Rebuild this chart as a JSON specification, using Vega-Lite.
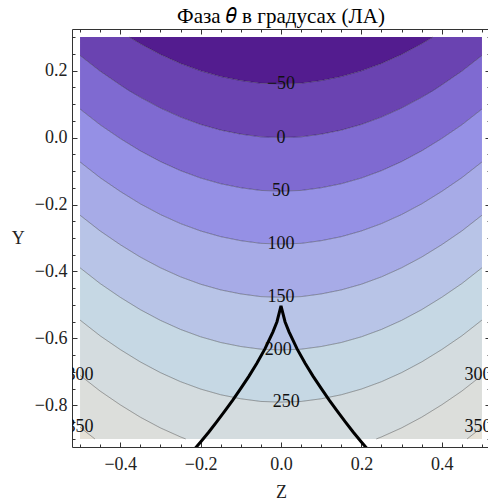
{
  "$schema": "https://vega.github.io/schema/vega-lite/v6.json",
  "width": 418,
  "height": 418,
  "autosize": {"type": "none"},
  "padding": {"left": 72, "top": 29, "right": 0, "bottom": 53},
  "background": "white",
  "title": {"text": "Фаза 𝜃 в градусах (ЛА)", "font": "Liberation Serif", "fontSize": 21, "fontWeight": "normal", "color": "#000", "offset": 2},
  "config": {
    "view": {"stroke": "#333", "strokeWidth": 1},
    "axis": {"labelFont": "Liberation Serif", "labelFontSize": 18, "labelColor": "#222", "titleFont": "Liberation Serif", "titleFontSize": 18, "titleFontWeight": "normal", "titleColor": "#222", "tickColor": "#333", "domain": false, "grid": false, "zindex": 1}
  },
  "datasets": {
    "bands": [
      {"b":"b0","z":-0.378,"t":0.3,"u":0.3},{"b":"b0","z":-0.35,"t":0.3,"u":0.28},{"b":"b0","z":-0.3,"t":0.3,"u":0.248},{"b":"b0","z":-0.25,"t":0.3,"u":0.221},{"b":"b0","z":-0.2,"t":0.3,"u":0.199},{"b":"b0","z":-0.15,"t":0.3,"u":0.182},{"b":"b0","z":-0.1,"t":0.3,"u":0.17},{"b":"b0","z":-0.05,"t":0.3,"u":0.162},{"b":"b0","z":0,"t":0.3,"u":0.16},{"b":"b0","z":0.05,"t":0.3,"u":0.162},{"b":"b0","z":0.1,"t":0.3,"u":0.17},{"b":"b0","z":0.15,"t":0.3,"u":0.182},{"b":"b0","z":0.2,"t":0.3,"u":0.199},{"b":"b0","z":0.25,"t":0.3,"u":0.221},{"b":"b0","z":0.3,"t":0.3,"u":0.248},{"b":"b0","z":0.35,"t":0.3,"u":0.28},{"b":"b0","z":0.378,"t":0.3,"u":0.3},
      {"b":"b1","z":-0.5,"t":0.3,"u":0.245},{"b":"b1","z":-0.45,"t":0.3,"u":0.198},{"b":"b1","z":-0.4,"t":0.3,"u":0.157},{"b":"b1","z":-0.378,"t":0.3,"u":0.14},{"b":"b1","z":-0.35,"t":0.28,"u":0.12},{"b":"b1","z":-0.3,"t":0.248,"u":0.088},{"b":"b1","z":-0.25,"t":0.221,"u":0.061},{"b":"b1","z":-0.2,"t":0.199,"u":0.039},{"b":"b1","z":-0.15,"t":0.182,"u":0.022},{"b":"b1","z":-0.1,"t":0.17,"u":0.01},{"b":"b1","z":-0.05,"t":0.162,"u":0.002},{"b":"b1","z":0,"t":0.16,"u":0},{"b":"b1","z":0.05,"t":0.162,"u":0.002},{"b":"b1","z":0.1,"t":0.17,"u":0.01},{"b":"b1","z":0.15,"t":0.182,"u":0.022},{"b":"b1","z":0.2,"t":0.199,"u":0.039},{"b":"b1","z":0.25,"t":0.221,"u":0.061},{"b":"b1","z":0.3,"t":0.248,"u":0.088},{"b":"b1","z":0.35,"t":0.28,"u":0.12},{"b":"b1","z":0.378,"t":0.3,"u":0.14},{"b":"b1","z":0.4,"t":0.3,"u":0.157},{"b":"b1","z":0.45,"t":0.3,"u":0.198},{"b":"b1","z":0.5,"t":0.3,"u":0.245},
      {"b":"b2","z":-0.5,"t":0.245,"u":0.085},{"b":"b2","z":-0.45,"t":0.198,"u":0.038},{"b":"b2","z":-0.4,"t":0.157,"u":-0.003},{"b":"b2","z":-0.35,"t":0.12,"u":-0.04},{"b":"b2","z":-0.3,"t":0.088,"u":-0.072},{"b":"b2","z":-0.25,"t":0.061,"u":-0.099},{"b":"b2","z":-0.2,"t":0.039,"u":-0.121},{"b":"b2","z":-0.15,"t":0.022,"u":-0.138},{"b":"b2","z":-0.1,"t":0.01,"u":-0.15},{"b":"b2","z":-0.05,"t":0.002,"u":-0.158},{"b":"b2","z":0,"t":0,"u":-0.16},{"b":"b2","z":0.05,"t":0.002,"u":-0.158},{"b":"b2","z":0.1,"t":0.01,"u":-0.15},{"b":"b2","z":0.15,"t":0.022,"u":-0.138},{"b":"b2","z":0.2,"t":0.039,"u":-0.121},{"b":"b2","z":0.25,"t":0.061,"u":-0.099},{"b":"b2","z":0.3,"t":0.088,"u":-0.072},{"b":"b2","z":0.35,"t":0.12,"u":-0.04},{"b":"b2","z":0.4,"t":0.157,"u":-0.003},{"b":"b2","z":0.45,"t":0.198,"u":0.038},{"b":"b2","z":0.5,"t":0.245,"u":0.085},
      {"b":"b3","z":-0.5,"t":0.085,"u":-0.073},{"b":"b3","z":-0.45,"t":0.038,"u":-0.12},{"b":"b3","z":-0.4,"t":-0.003,"u":-0.161},{"b":"b3","z":-0.35,"t":-0.04,"u":-0.198},{"b":"b3","z":-0.3,"t":-0.072,"u":-0.23},{"b":"b3","z":-0.25,"t":-0.099,"u":-0.257},{"b":"b3","z":-0.2,"t":-0.121,"u":-0.279},{"b":"b3","z":-0.15,"t":-0.138,"u":-0.296},{"b":"b3","z":-0.1,"t":-0.15,"u":-0.308},{"b":"b3","z":-0.05,"t":-0.158,"u":-0.316},{"b":"b3","z":0,"t":-0.16,"u":-0.318},{"b":"b3","z":0.05,"t":-0.158,"u":-0.316},{"b":"b3","z":0.1,"t":-0.15,"u":-0.308},{"b":"b3","z":0.15,"t":-0.138,"u":-0.296},{"b":"b3","z":0.2,"t":-0.121,"u":-0.279},{"b":"b3","z":0.25,"t":-0.099,"u":-0.257},{"b":"b3","z":0.3,"t":-0.072,"u":-0.23},{"b":"b3","z":0.35,"t":-0.04,"u":-0.198},{"b":"b3","z":0.4,"t":-0.003,"u":-0.161},{"b":"b3","z":0.45,"t":0.038,"u":-0.12},{"b":"b3","z":0.5,"t":0.085,"u":-0.073},
      {"b":"b4","z":-0.5,"t":-0.073,"u":-0.232},{"b":"b4","z":-0.45,"t":-0.12,"u":-0.279},{"b":"b4","z":-0.4,"t":-0.161,"u":-0.32},{"b":"b4","z":-0.35,"t":-0.198,"u":-0.357},{"b":"b4","z":-0.3,"t":-0.23,"u":-0.389},{"b":"b4","z":-0.25,"t":-0.257,"u":-0.416},{"b":"b4","z":-0.2,"t":-0.279,"u":-0.438},{"b":"b4","z":-0.15,"t":-0.296,"u":-0.455},{"b":"b4","z":-0.1,"t":-0.308,"u":-0.467},{"b":"b4","z":-0.05,"t":-0.316,"u":-0.475},{"b":"b4","z":0,"t":-0.318,"u":-0.477},{"b":"b4","z":0.05,"t":-0.316,"u":-0.475},{"b":"b4","z":0.1,"t":-0.308,"u":-0.467},{"b":"b4","z":0.15,"t":-0.296,"u":-0.455},{"b":"b4","z":0.2,"t":-0.279,"u":-0.438},{"b":"b4","z":0.25,"t":-0.257,"u":-0.416},{"b":"b4","z":0.3,"t":-0.23,"u":-0.389},{"b":"b4","z":0.35,"t":-0.198,"u":-0.357},{"b":"b4","z":0.4,"t":-0.161,"u":-0.32},{"b":"b4","z":0.45,"t":-0.12,"u":-0.279},{"b":"b4","z":0.5,"t":-0.073,"u":-0.232},
      {"b":"b5","z":-0.5,"t":-0.232,"u":-0.389},{"b":"b5","z":-0.45,"t":-0.279,"u":-0.436},{"b":"b5","z":-0.4,"t":-0.32,"u":-0.477},{"b":"b5","z":-0.35,"t":-0.357,"u":-0.514},{"b":"b5","z":-0.3,"t":-0.389,"u":-0.546},{"b":"b5","z":-0.25,"t":-0.416,"u":-0.573},{"b":"b5","z":-0.2,"t":-0.438,"u":-0.595},{"b":"b5","z":-0.15,"t":-0.455,"u":-0.612},{"b":"b5","z":-0.1,"t":-0.467,"u":-0.624},{"b":"b5","z":-0.05,"t":-0.475,"u":-0.632},{"b":"b5","z":0,"t":-0.477,"u":-0.634},{"b":"b5","z":0.05,"t":-0.475,"u":-0.632},{"b":"b5","z":0.1,"t":-0.467,"u":-0.624},{"b":"b5","z":0.15,"t":-0.455,"u":-0.612},{"b":"b5","z":0.2,"t":-0.438,"u":-0.595},{"b":"b5","z":0.25,"t":-0.416,"u":-0.573},{"b":"b5","z":0.3,"t":-0.389,"u":-0.546},{"b":"b5","z":0.35,"t":-0.357,"u":-0.514},{"b":"b5","z":0.4,"t":-0.32,"u":-0.477},{"b":"b5","z":0.45,"t":-0.279,"u":-0.436},{"b":"b5","z":0.5,"t":-0.232,"u":-0.389},
      {"b":"b6","z":-0.5,"t":-0.389,"u":-0.545},{"b":"b6","z":-0.45,"t":-0.436,"u":-0.592},{"b":"b6","z":-0.4,"t":-0.477,"u":-0.633},{"b":"b6","z":-0.35,"t":-0.514,"u":-0.67},{"b":"b6","z":-0.3,"t":-0.546,"u":-0.702},{"b":"b6","z":-0.25,"t":-0.573,"u":-0.729},{"b":"b6","z":-0.2,"t":-0.595,"u":-0.751},{"b":"b6","z":-0.15,"t":-0.612,"u":-0.768},{"b":"b6","z":-0.1,"t":-0.624,"u":-0.78},{"b":"b6","z":-0.05,"t":-0.632,"u":-0.788},{"b":"b6","z":0,"t":-0.634,"u":-0.79},{"b":"b6","z":0.05,"t":-0.632,"u":-0.788},{"b":"b6","z":0.1,"t":-0.624,"u":-0.78},{"b":"b6","z":0.15,"t":-0.612,"u":-0.768},{"b":"b6","z":0.2,"t":-0.595,"u":-0.751},{"b":"b6","z":0.25,"t":-0.573,"u":-0.729},{"b":"b6","z":0.3,"t":-0.546,"u":-0.702},{"b":"b6","z":0.35,"t":-0.514,"u":-0.67},{"b":"b6","z":0.4,"t":-0.477,"u":-0.633},{"b":"b6","z":0.45,"t":-0.436,"u":-0.592},{"b":"b6","z":0.5,"t":-0.389,"u":-0.545},
      {"b":"b7","z":-0.5,"t":-0.545,"u":-0.71},{"b":"b7","z":-0.45,"t":-0.592,"u":-0.757},{"b":"b7","z":-0.4,"t":-0.633,"u":-0.798},{"b":"b7","z":-0.35,"t":-0.67,"u":-0.835},{"b":"b7","z":-0.3,"t":-0.702,"u":-0.867},{"b":"b7","z":-0.25,"t":-0.729,"u":-0.894},{"b":"b7","z":-0.237,"t":-0.735,"u":-0.9},{"b":"b7","z":-0.2,"t":-0.751,"u":-0.9},{"b":"b7","z":-0.15,"t":-0.768,"u":-0.9},{"b":"b7","z":-0.1,"t":-0.78,"u":-0.9},{"b":"b7","z":-0.05,"t":-0.788,"u":-0.9},{"b":"b7","z":0,"t":-0.79,"u":-0.9},{"b":"b7","z":0.05,"t":-0.788,"u":-0.9},{"b":"b7","z":0.1,"t":-0.78,"u":-0.9},{"b":"b7","z":0.15,"t":-0.768,"u":-0.9},{"b":"b7","z":0.2,"t":-0.751,"u":-0.9},{"b":"b7","z":0.237,"t":-0.735,"u":-0.9},{"b":"b7","z":0.25,"t":-0.729,"u":-0.894},{"b":"b7","z":0.3,"t":-0.702,"u":-0.867},{"b":"b7","z":0.35,"t":-0.67,"u":-0.835},{"b":"b7","z":0.4,"t":-0.633,"u":-0.798},{"b":"b7","z":0.45,"t":-0.592,"u":-0.757},{"b":"b7","z":0.5,"t":-0.545,"u":-0.71},
      {"b":"b8","z":-0.5,"t":-0.71,"u":-0.865},{"b":"b8","z":-0.48,"t":-0.729,"u":-0.884},{"b":"b8","z":-0.463,"t":-0.745,"u":-0.9},{"b":"b8","z":-0.45,"t":-0.757,"u":-0.9},{"b":"b8","z":-0.4,"t":-0.798,"u":-0.9},{"b":"b8","z":-0.35,"t":-0.835,"u":-0.9},{"b":"b8","z":-0.3,"t":-0.867,"u":-0.9},{"b":"b8","z":-0.25,"t":-0.894,"u":-0.9},{"b":"b8","z":-0.237,"t":-0.9,"u":-0.9},{"b":"b8","z":0.237,"t":-0.9,"u":-0.9},{"b":"b8","z":0.25,"t":-0.894,"u":-0.9},{"b":"b8","z":0.3,"t":-0.867,"u":-0.9},{"b":"b8","z":0.35,"t":-0.835,"u":-0.9},{"b":"b8","z":0.4,"t":-0.798,"u":-0.9},{"b":"b8","z":0.45,"t":-0.757,"u":-0.9},{"b":"b8","z":0.463,"t":-0.745,"u":-0.9},{"b":"b8","z":0.48,"t":-0.729,"u":-0.884},{"b":"b8","z":0.5,"t":-0.71,"u":-0.865},
      {"b":"b9","z":-0.5,"t":-0.865,"u":-0.9},{"b":"b9","z":-0.48,"t":-0.884,"u":-0.9},{"b":"b9","z":-0.463,"t":-0.9,"u":-0.9},{"b":"b9","z":0.463,"t":-0.9,"u":-0.9},{"b":"b9","z":0.48,"t":-0.884,"u":-0.9},{"b":"b9","z":0.5,"t":-0.865,"u":-0.9}
    ],
    "edges": [
      {"l":"300L","z":-0.5,"y":-0.71},{"l":"300L","z":-0.45,"y":-0.757},{"l":"300L","z":-0.4,"y":-0.798},{"l":"300L","z":-0.35,"y":-0.835},{"l":"300L","z":-0.3,"y":-0.867},{"l":"300L","z":-0.25,"y":-0.894},{"l":"300L","z":-0.237,"y":-0.9},
      {"l":"300R","z":0.237,"y":-0.9},{"l":"300R","z":0.25,"y":-0.894},{"l":"300R","z":0.3,"y":-0.867},{"l":"300R","z":0.35,"y":-0.835},{"l":"300R","z":0.4,"y":-0.798},{"l":"300R","z":0.45,"y":-0.757},{"l":"300R","z":0.5,"y":-0.71},
      {"l":"350L","z":-0.5,"y":-0.865},{"l":"350L","z":-0.48,"y":-0.884},{"l":"350L","z":-0.463,"y":-0.9},
      {"l":"350R","z":0.463,"y":-0.9},{"l":"350R","z":0.48,"y":-0.884},{"l":"350R","z":0.5,"y":-0.865}
    ],
    "labels": [
      {"t":"−50","z":0,"y":0.16},{"t":"0","z":0,"y":0},{"t":"50","z":0,"y":-0.16},{"t":"100","z":0,"y":-0.318},{"t":"150","z":0,"y":-0.477},{"t":"200","z":-0.007,"y":-0.634},{"t":"250","z":0.013,"y":-0.79},{"t":"300","z":-0.5,"y":-0.71},{"t":"300","z":0.49,"y":-0.71},{"t":"350","z":-0.5,"y":-0.865},{"t":"350","z":0.49,"y":-0.865}
    ],
    "curve": [
      {"z":-0.215,"y":-0.93},{"z":-0.2,"y":-0.909},{"z":-0.18,"y":-0.88},{"z":-0.16,"y":-0.849},{"z":-0.14,"y":-0.817},{"z":-0.12,"y":-0.784},{"z":-0.1,"y":-0.749},{"z":-0.08,"y":-0.713},{"z":-0.06,"y":-0.674},{"z":-0.04,"y":-0.631},{"z":-0.02,"y":-0.58},{"z":-0.01,"y":-0.55},{"z":0,"y":-0.503},{"z":0.01,"y":-0.55},{"z":0.02,"y":-0.58},{"z":0.04,"y":-0.631},{"z":0.06,"y":-0.674},{"z":0.08,"y":-0.713},{"z":0.1,"y":-0.749},{"z":0.12,"y":-0.784},{"z":0.14,"y":-0.817},{"z":0.16,"y":-0.849},{"z":0.18,"y":-0.88},{"z":0.2,"y":-0.909},{"z":0.215,"y":-0.93}
    ]
  },
  "resolve": {"axis": {"x": "independent", "y": "independent"}},
  "layer": [
    {
      "data": {"name": "bands"},
      "mark": {"type": "area", "interpolate": "linear", "clip": true},
      "encoding": {
        "x": {"field": "z", "type": "quantitative", "scale": {"domain": [-0.52, 0.52], "nice": false, "zero": false},
              "axis": {"orient": "bottom", "values": [-0.4, -0.2, 0, 0.2, 0.4], "format": ".1f", "tickSize": -5, "labelPadding": 13, "title": "Z", "titlePadding": 10}},
        "y": {"field": "t", "type": "quantitative", "stack": null, "scale": {"domain": [-0.924, 0.324], "nice": false, "zero": false},
              "axis": {"orient": "left", "values": [-0.8, -0.6, -0.4, -0.2, 0, 0.2], "format": ".1f", "tickSize": -5, "labelPadding": 10, "title": "Y", "titleAngle": 0, "titleAlign": "right", "titleBaseline": "middle", "titlePadding": 10}},
        "y2": {"field": "u"},
        "color": {"field": "b", "type": "nominal", "legend": null,
                  "scale": {"domain": ["b0","b1","b2","b3","b4","b5","b6","b7","b8","b9"],
                            "range": ["#531C8F","#6A43B1","#7F6AD1","#9590E5","#A7ABE7","#B8C4E7","#C6D8E4","#D4DCDF","#DCDEDB","#E6E1D6"]}}
      }
    },
    {
      "data": {"name": "bands"},
      "transform": [{"filter": {"field": "b", "oneOf": ["b0","b1","b2","b3","b4","b5","b6"]}}],
      "mark": {"type": "line", "interpolate": "linear", "color": "#000", "strokeOpacity": 0.33, "strokeWidth": 1, "clip": true},
      "encoding": {
        "x": {"field": "z", "type": "quantitative", "scale": {"domain": [-0.52, 0.52], "nice": false, "zero": false},
              "axis": {"orient": "bottom", "values": [-0.5,-0.45,-0.35,-0.3,-0.25,-0.15,-0.1,-0.05,0.05,0.1,0.15,0.25,0.3,0.35,0.45,0.5], "labels": false, "tickSize": -3, "title": null}},
        "y": {"field": "u", "type": "quantitative", "scale": {"domain": [-0.924, 0.324], "nice": false, "zero": false},
              "axis": {"orient": "left", "values": [-0.9,-0.85,-0.75,-0.7,-0.65,-0.55,-0.5,-0.45,-0.35,-0.3,-0.25,-0.15,-0.1,-0.05,0.05,0.1,0.15,0.25,0.3], "labels": false, "tickSize": -3, "title": null}},
        "detail": {"field": "b", "type": "nominal"}
      }
    },
    {
      "data": {"name": "edges"},
      "mark": {"type": "line", "interpolate": "linear", "color": "#000", "strokeOpacity": 0.33, "strokeWidth": 1, "clip": true},
      "encoding": {
        "x": {"field": "z", "type": "quantitative", "scale": {"domain": [-0.52, 0.52], "nice": false, "zero": false}, "axis": null},
        "y": {"field": "y", "type": "quantitative", "scale": {"domain": [-0.924, 0.324], "nice": false, "zero": false}, "axis": null},
        "detail": {"field": "l", "type": "nominal"}
      }
    },
    {
      "data": {"name": "labels"},
      "mark": {"type": "text", "font": "Liberation Serif", "fontSize": 18, "color": "#111", "align": "center", "baseline": "middle", "clip": true},
      "encoding": {
        "x": {"field": "z", "type": "quantitative", "scale": {"domain": [-0.52, 0.52], "nice": false, "zero": false},
              "axis": {"orient": "top", "values": [-0.4, -0.2, 0, 0.2, 0.4], "labels": false, "tickSize": -5, "title": null}},
        "y": {"field": "y", "type": "quantitative", "scale": {"domain": [-0.924, 0.324], "nice": false, "zero": false},
              "axis": {"orient": "right", "values": [-0.8, -0.6, -0.4, -0.2, 0, 0.2], "labels": false, "tickSize": -5, "title": null}},
        "text": {"field": "t", "type": "nominal"}
      }
    },
    {
      "data": {"name": "curve"},
      "mark": {"type": "line", "interpolate": "linear", "color": "#000", "strokeWidth": 3, "clip": true},
      "encoding": {
        "x": {"field": "z", "type": "quantitative", "scale": {"domain": [-0.52, 0.52], "nice": false, "zero": false},
              "axis": {"orient": "top", "values": [-0.5,-0.45,-0.35,-0.3,-0.25,-0.15,-0.1,-0.05,0.05,0.1,0.15,0.25,0.3,0.35,0.45,0.5], "labels": false, "tickSize": -3, "title": null}},
        "y": {"field": "y", "type": "quantitative", "scale": {"domain": [-0.924, 0.324], "nice": false, "zero": false},
              "axis": {"orient": "right", "values": [-0.9,-0.85,-0.75,-0.7,-0.65,-0.55,-0.5,-0.45,-0.35,-0.3,-0.25,-0.15,-0.1,-0.05,0.05,0.1,0.15,0.25,0.3], "labels": false, "tickSize": -3, "title": null}}
      }
    }
  ]
}
